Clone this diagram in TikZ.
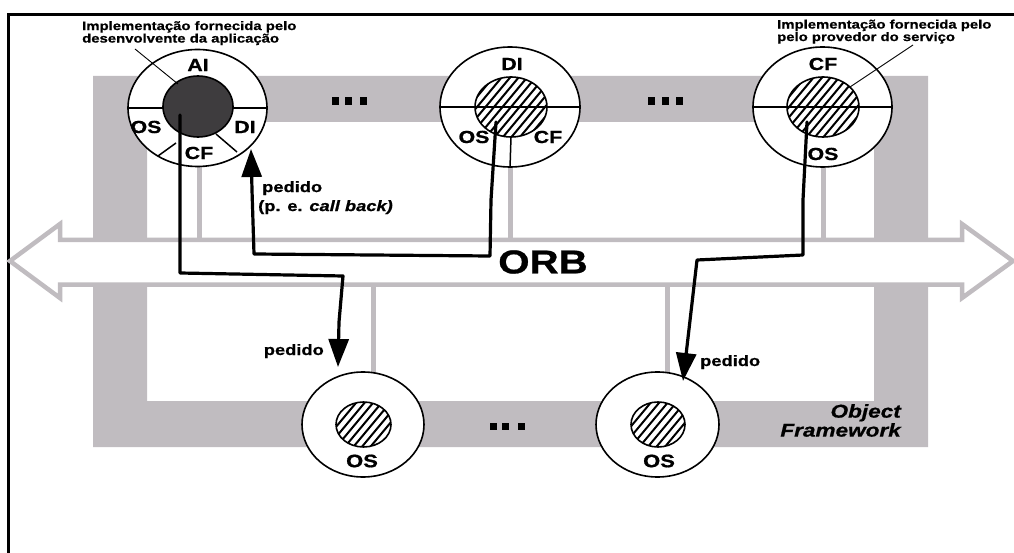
\documentclass[tikz,border=0pt]{standalone}
\usepackage{fontspec}
\newfontfamily\wf{Liberation Sans}[FakeStretch=1.22, BoldFeatures={FakeBold=0.8}, BoldItalicFeatures={FakeBold=0.8}]
\usetikzlibrary{shapes.geometric,arrows.meta,calc}
\definecolor{band}{RGB}{192,188,192}
\definecolor{darkcore}{RGB}{62,60,62}
\tikzset{
  ring/.style={ellipse, draw=black, line width=1.6pt, fill=white, inner sep=0pt},
  core/.style={ellipse, inner sep=0pt},
  lbl/.style={font=\wf\bfseries\fontsize{17.5}{17.5}\selectfont, inner sep=0pt},
  anno/.style={font=\wf\bfseries\fontsize{12.2}{12.5}\selectfont, align=left, inner sep=0pt},
  req/.style={font=\wf\bfseries\fontsize{15}{19}\selectfont, align=left, inner sep=0pt},
  conn/.style={line width=3.2pt, line join=round, line cap=round},
  arr/.style={-{Triangle[length=28pt,width=20pt]}},
  linkline/.style={draw=band, line width=5pt},
  leader/.style={line width=0.9pt},
}
\newcommand\hatchell[3]{%
  \begin{scope}
    \clip #1 ellipse ({#2} and {#3});
    \foreach \k in {-9,...,9} \draw[line width=2pt] ($#1+(\k*8.5-45,54)$) -- ++(90,-108);
  \end{scope}
  \draw[line width=1.6pt] #1 ellipse ({#2} and {#3});
}
\begin{document}
\begin{tikzpicture}[x=1pt,y=-1pt]
\useasboundingbox (0,0) rectangle (1014,553);
\fill[white] (0,0) rectangle (1014,553);
% border
\draw[line width=2.5pt] (8.5,553) -- (8.5,14.5) -- (1014,14.5);
% object framework band
\fill[band,even odd rule] (93,76) rectangle (928,447) (147,122) rectangle (874,401);
% thin links
\draw[linkline] (199.5,122) -- (199.5,242);
\draw[linkline] (510.5,122) -- (510.5,242);
\draw[linkline] (823.5,122) -- (823.5,242);
\draw[linkline] (373,282) -- (373,402);
\draw[linkline] (667.5,282) -- (667.5,402);
% ORB arrow
\draw[band, line width=4.5pt, fill=white, line join=miter]
  (10,261) -- (60,224) -- (60,240) -- (962,240) -- (962,224) -- (1013,261)
  -- (962,298) -- (962,284.5) -- (60,284.5) -- (60,298) -- cycle;
\node[font=\wf\bfseries\fontsize{33}{33}\selectfont, inner sep=0pt] (orb) at (543,262) {ORB};
% dots
\foreach \cx in {335.5,348.5,363} \fill (\cx-3.5,97) rectangle (\cx+3.5,105);
\foreach \cx in {651.5,665.5,679.5} \fill (\cx-3.5,97) rectangle (\cx+3.5,105);
\foreach \cx in {493.5,505.5,521} \fill (\cx-3.5,422.5) rectangle (\cx+3.5,430);
% AI circle
\node[ring, minimum width=139pt, minimum height=117pt] (ai) at (197.5,108) {};
\draw[line width=1.5pt] (ai.west) -- (ai.east);
\node[core, fill=darkcore, draw=black, line width=1.6pt, minimum width=70pt, minimum height=61pt] (aii) at (198,106.5) {};
\draw[line width=1.5pt] (158,156) -- (176,143);
\draw[line width=1.5pt] (216,134) -- (237,152);
\node[lbl] at (198,65) {AI};
\node[lbl] at (146,127) {OS};
\node[lbl] at (245,127) {DI};
\node[lbl] at (199,153) {CF};
% DI circle
\node[ring, minimum width=140pt, minimum height=120pt] (di) at (510,107) {};
\draw[line width=1.5pt] (di.west) -- (di.east);
\draw[line width=1.5pt] (511,137) -- (di.south);
\node[core, minimum width=72pt, minimum height=60pt] (dii) at (511,107) {};
\hatchell{(dii.center)}{36}{30}
\node[lbl] at (512,64) {DI};
\node[lbl] at (474,137) {OS};
\node[lbl] at (548,137) {CF};
% CF circle
\node[ring, minimum width=139pt, minimum height=120pt] (cf) at (822.5,107) {};
\draw[line width=1.5pt] (cf.west) -- (cf.east);
\node[core, minimum width=72pt, minimum height=60pt] (cfi) at (823,107) {};
\hatchell{(cfi.center)}{36}{30}
\node[lbl] at (823,64) {CF};
\node[lbl] at (823,154) {OS};
% bottom OS circles
\node[ring, minimum width=122pt, minimum height=105pt] (os1) at (363,424.5) {};
\node[core, minimum width=55pt, minimum height=45pt] (os1i) at (363.5,424.5) {};
\hatchell{(os1i.center)}{27.5}{22.5}
\node[lbl, font=\wf\bfseries\fontsize{18}{18}\selectfont] at (362,461) {OS};
\node[ring, minimum width=123pt, minimum height=105pt] (os2) at (657.5,424.5) {};
\node[core, minimum width=54pt, minimum height=45pt] (os2i) at (658,424.5) {};
\hatchell{(os2i.center)}{27}{22.5}
\node[lbl, font=\wf\bfseries\fontsize{18}{18}\selectfont] at (659,461) {OS};
% annotations
\node[anno, anchor=north west] (n1) at (82,21) {Implementação fornecida pelo\\desenvolvente da aplicação};
\node[anno, anchor=north west] (n2) at (777,19.5) {Implementação fornecida pelo\\pelo provedor do serviço};
\coordinate (l1s) at (135,49);
\coordinate (l1e) at (178,84);
\coordinate (l2s) at (913,45);
\coordinate (l2e) at (850,87);
\draw[leader] (l1s) -- (l1e);
\draw[leader] (l2s) -- (l2e);
% connectors
\coordinate (c1s) at (180,115);
\coordinate (c1e) at (338,367);
\coordinate (c2s) at (496,122);
\coordinate (c2e) at (251,149);
\coordinate (c3s) at (807,122);
\coordinate (c3e) at (683,381);
\draw[conn,arr] (c1s) -- (180,273) -- (343,276) -- (339,322) -- (c1e);
\draw[conn,arr] (c2s) -- (491,200) -- (490,256) -- (254,254) -- (252,190) -- (c2e);
\draw[conn,arr] (c3s) -- (803,200) -- (803,255) -- (697,260) -- (c3e);
% request labels
\node[req, anchor=north west] (r1) at (258,181) {\hspace*{4pt}pedido\\(p. e. \textit{call back)}};
\node[req, anchor=base east] (r2) at (324,355) {pedido};
\node[req, anchor=base west] (r3) at (700,366) {pedido};
% object framework
\node[font=\wf\bfseries\itshape\fontsize{18.5}{19}\selectfont, align=right, inner sep=0pt, anchor=north east] (of) at (901,404) {Object\\Framework};
\end{tikzpicture}
\end{document}
